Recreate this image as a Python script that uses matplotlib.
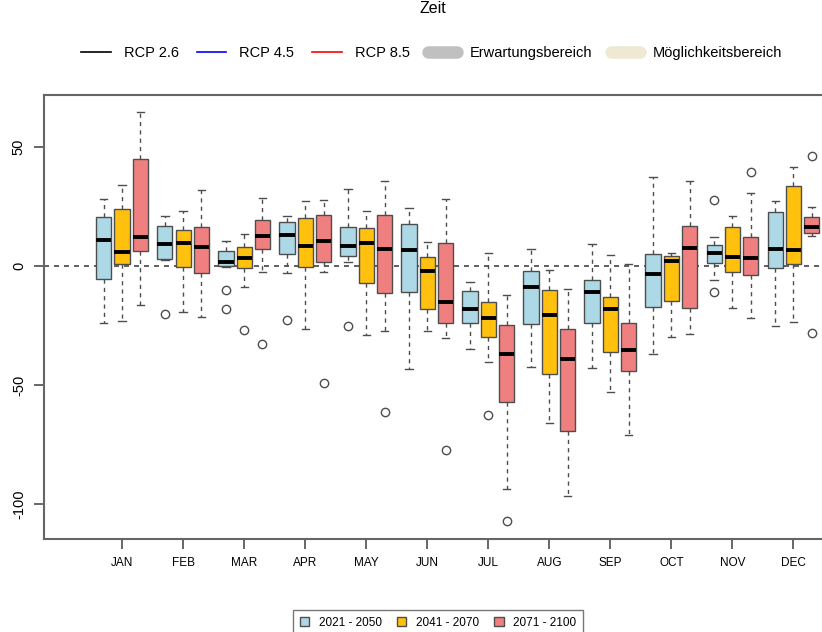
import numpy as np
import matplotlib
matplotlib.use('Agg')
import matplotlib.pyplot as plt
from matplotlib.lines import Line2D
from matplotlib.patches import Patch

plt.rcParams['font.family'] = ['Liberation Sans', 'DejaVu Sans']

months = ['JAN', 'FEB', 'MAR', 'APR', 'MAY', 'JUN',
          'JUL', 'AUG', 'SEP', 'OCT', 'NOV', 'DEC']
periods = ['2021 - 2050', '2041 - 2070', '2071 - 2100']
colors = ['#add8e6', '#ffc10e', '#f08080']

# 2021 - 2050
p1_whishi = [28.3, 21.0, 10.5, 21.0, 32.5, 24.4, -6.7, 7.1, 9.4, 37.5, 12.2, 27.4]
p1_q3 = [20.6, 16.9, 6.2, 18.3, 16.5, 17.6, -10.5, -2.2, -5.9, 4.9, 8.8, 22.7]
p1_med = [10.9, 9.1, 1.8, 13.2, 8.5, 6.7, -18.2, -9.0, -10.9, -3.5, 5.3, 7.3]
p1_q1 = [-5.3, 2.9, 0.0, 5.2, 4.3, -11.1, -24.1, -24.4, -24.0, -17.2, 1.4, -0.7]
p1_whislo = [-24.1, 2.5, -0.5, -2.8, 1.6, -43.3, -34.7, -42.6, -42.7, -37.0, -5.9, -25.2]
p1_fliers = [[], [-20.0], [-10.0, -18.2], [-22.7], [-25.2], [],
             [], [], [], [], [27.7, -10.8], []]

# 2041 - 2070
p2_whishi = [33.9, 23.2, 13.4, 27.2, 23.1, 10.2, 5.3, -1.7, 4.7, 5.6, 21.1, 41.6]
p2_q3 = [23.9, 15.0, 7.8, 20.3, 15.8, 3.9, -15.0, -10.1, -12.9, 4.3, 16.4, 33.6]
p2_med = [5.7, 9.5, 3.4, 8.3, 9.7, -2.1, -21.7, -20.4, -17.9, 2.2, 3.8, 6.9]
p2_q1 = [0.7, -0.3, -1.0, -0.4, -7.3, -18.1, -29.8, -45.5, -36.0, -14.7, -2.5, 0.8]
p2_whislo = [-23.3, -19.2, -8.7, -26.5, -29.0, -27.3, -40.5, -66.0, -52.8, -30.0, -17.6, -23.5]
p2_fliers = [[], [], [-27.0], [], [], [],
             [-62.6], [], [], [], [], []]

# 2071 - 2100
p3_whishi = [64.6, 31.9, 28.6, 27.6, 35.6, 28.2, -12.3, -9.5, 1.0, 35.7, 30.5, 24.9]
p3_q3 = [44.8, 16.5, 19.5, 21.3, 21.6, 9.5, -24.8, -26.6, -24.1, 16.8, 12.3, 20.5]
p3_med = [12.3, 8.0, 12.7, 10.6, 7.0, -15.1, -37.0, -38.9, -35.2, 7.7, 3.2, 16.5]
p3_q1 = [6.2, -2.8, 7.3, 1.8, -11.3, -24.1, -57.3, -69.3, -44.3, -17.6, -3.9, 13.7]
p3_whislo = [-16.4, -21.3, -2.4, -2.5, -27.2, -30.4, -93.8, -96.6, -71.0, -28.7, -21.7, 12.7]
p3_fliers = [[], [], [-32.6], [-49.0], [-61.5], [-77.2],
             [-107.0], [], [], [], [39.5], [46.3, -28.2]]

series = [
    (p1_whislo, p1_q1, p1_med, p1_q3, p1_whishi, p1_fliers),
    (p2_whislo, p2_q1, p2_med, p2_q3, p2_whishi, p2_fliers),
    (p3_whislo, p3_q1, p3_med, p3_q3, p3_whishi, p3_fliers),
]

EDGE = '#4d4d4d'

fig = plt.figure(figsize=(8.22, 6.32), dpi=100)
ax = fig.add_axes([44 / 822, 1 - 539 / 632, 780 / 822, 444 / 632])

x = np.arange(1, 13)
offsets = [-0.30, 0.0, 0.30]
for (lo, q1, med, q3, hi, fl), off, col in zip(series, offsets, colors):
    stats = []
    for k in range(12):
        stats.append(dict(whislo=lo[k], q1=q1[k], med=med[k], q3=q3[k],
                          whishi=hi[k], fliers=fl[k]))
    ax.bxp(stats, positions=x + off, widths=0.25, capwidths=0.12,
           patch_artist=True, showfliers=True,
           boxprops=dict(facecolor=col, edgecolor=EDGE, linewidth=1.0),
           whiskerprops=dict(color=EDGE, linestyle=(0, (3, 3)), linewidth=1.0),
           capprops=dict(color=EDGE, linewidth=1.0),
           medianprops=dict(color='black', linewidth=2.8, solid_capstyle='butt'),
           flierprops=dict(marker='o', markersize=6, markerfacecolor='none',
                           markeredgecolor=EDGE, markeredgewidth=1.0))

ax.axhline(0, color='#444444', linestyle=(0, (3, 3)), linewidth=1.2, zorder=0.5)

ax.set_xlim(-0.28, 12.5)
ax.set_ylim(-114.7, 71.8)
ax.set_xticks(x)
ax.set_xticklabels(months, fontsize=8.5)
ax.set_yticks([-100, -50, 0, 50])
ax.set_yticklabels(['-100', '-50', '0', '50'], rotation=90, va='center', fontsize=10.5)
ax.tick_params(axis='both', direction='out', length=7, color=EDGE, width=1.2, pad=6)
for s in ax.spines.values():
    s.set_color('#666666')
    s.set_linewidth(1.5)

fig.text(433 / 822, 1 - 13 / 632, 'Zeit', ha='center', va='baseline', fontsize=11.5)

top_handles = [
    Line2D([], [], color='black', lw=1.2),
    Line2D([], [], color='blue', lw=1.2),
    Line2D([], [], color='red', lw=1.2),
    Line2D([], [], color='#c0c0c0', lw=9, solid_capstyle='round'),
    Line2D([], [], color='#efe9d3', lw=9, solid_capstyle='round'),
]
top_labels = ['RCP 2.6', 'RCP 4.5', 'RCP 8.5', 'Erwartungsbereich', 'Möglichkeitsbereich']
fig.legend(top_handles, top_labels, loc='center', ncol=5, frameon=False,
           bbox_to_anchor=(432 / 822, 1 - 53 / 632), fontsize=10.5,
           handlelength=2.0, columnspacing=1.25, handletextpad=0.9)

bottom_handles = [Patch(facecolor=c, edgecolor=EDGE, linewidth=1.0) for c in colors]
leg = fig.legend(bottom_handles, periods, loc='upper center', ncol=3,
                 bbox_to_anchor=(438 / 822, 1 - 604 / 632), fontsize=8.5,
                 handlelength=0.8, handleheight=0.8, fancybox=False,
                 edgecolor='#555555', borderpad=0.6, columnspacing=1.3)
leg.get_frame().set_linewidth(1.0)

fig.savefig('out.png', dpi=100)
